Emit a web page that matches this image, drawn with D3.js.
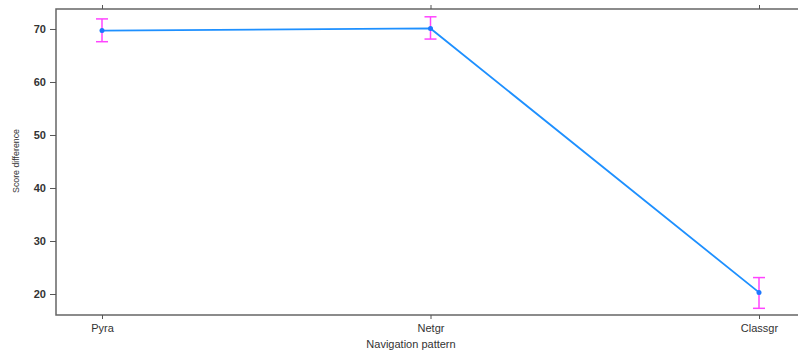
<!DOCTYPE html>
<html>
<head>
<meta charset="utf-8">
<script src="https://cdn.jsdelivr.net/npm/d3@7"></script>
<style>
body { margin: 0; background: #fff; }
text { font-family: "Liberation Sans", Arial, sans-serif; fill: #333; }
</style>
</head>
<body>
<svg id="chart" width="798" height="354"></svg>
<script>
// navigation patterns and score difference with error bars
var patterns = ['Pyra', 'Netgr', 'Classgr'];
var scores = [69.7, 70.1, 20.3];
var upper = [71.9, 72.3, 23.1];
var lower = [67.6, 68.1, 17.3];
var yTicks = [20, 30, 40, 50, 60, 70];

var svg = d3.select('#chart');
// plot frame (note: "top" is reserved on window, so use other names)
var frameL = 56, frameT = 9, frameR = 810, frameB = 315;

var x = d3.scalePoint().domain(patterns).range([102, 759]);
var y = d3.scaleLinear().domain([16.04, 73.77]).range([frameB, frameT]);

// frame (open to the right, like the original crop)
svg.append('path')
    .attr('d', 'M' + frameR + ',' + frameT + 'H' + frameL + 'V' + frameB + 'H' + frameR)
    .attr('fill', 'none')
    .attr('stroke', '#666')
    .attr('stroke-width', 1.5);

// left axis
var yAxis = svg.append('g')
    .attr('transform', 'translate(' + frameL + ',0)')
    .call(d3.axisLeft(y).tickValues(yTicks).tickSize(6).tickPadding(4));
yAxis.select('.domain').remove();
yAxis.selectAll('line').attr('stroke', '#555');
yAxis.selectAll('text').attr('font-size', 11).attr('font-weight', 'bold').attr('fill', '#444');

// bottom axis
var xAxis = svg.append('g')
    .attr('transform', 'translate(0,' + frameB + ')')
    .call(d3.axisBottom(x).tickSize(4).tickPadding(5));
xAxis.select('.domain').remove();
xAxis.selectAll('line').attr('stroke', '#555');
xAxis.selectAll('text').attr('font-size', 11).attr('fill', '#333');

// top ticks
var xTop = svg.append('g')
    .attr('transform', 'translate(0,' + frameT + ')')
    .call(d3.axisTop(x).tickSize(4).tickFormat(''));
xTop.select('.domain').remove();
xTop.selectAll('line').attr('stroke', '#555');

// axis titles
svg.append('text')
    .attr('x', 411).attr('y', 348)
    .attr('text-anchor', 'middle')
    .attr('font-size', 11)
    .text('Navigation pattern');

svg.append('text')
    .attr('transform', 'translate(19,161) rotate(-90)')
    .attr('text-anchor', 'middle')
    .attr('font-size', 9)
    .attr('textLength', 64)
    .attr('lengthAdjust', 'spacingAndGlyphs')
    .text('Score difference');

// error bars
var bars = svg.append('g').attr('stroke', '#ff44ff').attr('stroke-width', 1.5);
patterns.forEach(function(p, i){
    var cx = x(p);
    bars.append('line').attr('x1', cx).attr('x2', cx).attr('y1', y(upper[i])).attr('y2', y(lower[i]));
    bars.append('line').attr('x1', cx - 6).attr('x2', cx + 6).attr('y1', y(upper[i])).attr('y2', y(upper[i]));
    bars.append('line').attr('x1', cx - 6).attr('x2', cx + 6).attr('y1', y(lower[i])).attr('y2', y(lower[i]));
});

// line and points
var line = d3.line()
    .x(function(d, i){ return x(patterns[i]); })
    .y(function(d){ return y(d); });

svg.append('path')
    .datum(scores)
    .attr('d', line)
    .attr('fill', 'none')
    .attr('stroke', '#1e90ff')
    .attr('stroke-width', 1.8);

svg.selectAll('circle.pt')
    .data(scores)
    .enter().append('circle')
        .attr('class', 'pt')
        .attr('cx', function(d, i){ return x(patterns[i]); })
        .attr('cy', function(d){ return y(d); })
        .attr('r', 2.5)
        .attr('fill', '#1e78ff');
</script>
</body>
</html>
